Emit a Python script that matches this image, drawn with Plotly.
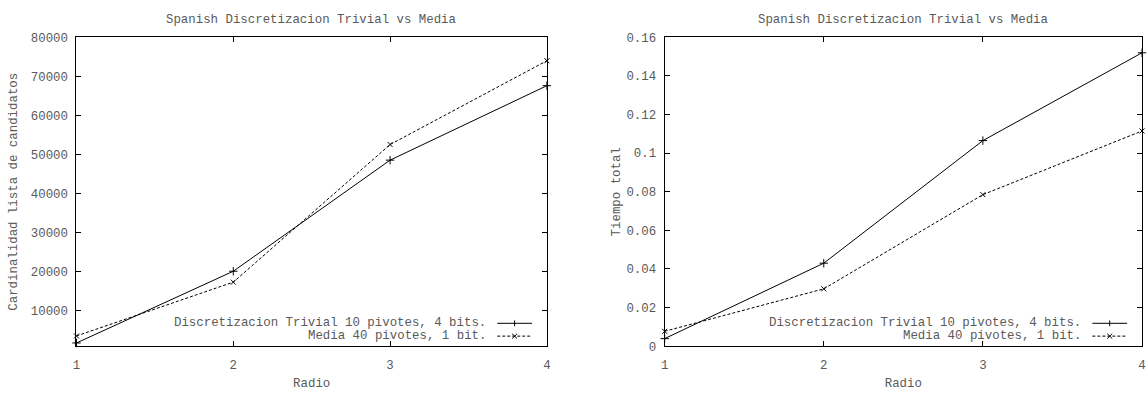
import plotly.graph_objects as go

radio = [1, 2, 3, 4]
cand_trivial = [1600, 20000, 48500, 67600]
cand_media = [3400, 17200, 52500, 74000]
tiempo_trivial = [0.0039, 0.0430, 0.1065, 0.1520]
tiempo_media = [0.0077, 0.0297, 0.0785, 0.1115]

title_text = "Spanish Discretizacion Trivial vs Media"
name_trivial = "Discretizacion Trivial 10 pivotes, 4 bits."
name_media = "Media 40 pivotes, 1 bit."
xlabel = "Radio"
ylabel_left = "Cardinalidad lista de candidatos"
ylabel_right = "Tiempo total"
left_yticks = [10000, 20000, 30000, 40000, 50000, 60000, 70000, 80000]
left_yticktext = ["10000", "20000", "30000", "40000", "50000", "60000", "70000", "80000"]
right_yticks = [0, 0.02, 0.04, 0.06, 0.08, 0.1, 0.12, 0.14, 0.16]
right_yticktext = ["0", "0.02", "0.04", "0.06", "0.08", "0.1", "0.12", "0.14", "0.16"]
x_ticktext = ["1", "2", "3", "4"]

W, H = 1147, 394
FONT = "Liberation Mono"
GRAY = "#5a5a5a"
FS = 12.4

def px(x):
    return x / W

def py(y):
    return 1 - y / H

L1, R1 = 73.0, 546.7
L2, R2 = 665.3, 1146.0
TOP, BOT = 32.5, 352.7

fig = go.Figure()

dash = "3px,2px"
for xa, ya, tr, me in [("x", "y", cand_trivial, cand_media), ("x2", "y2", tiempo_trivial, tiempo_media)]:
    fig.add_trace(go.Scatter(x=radio, y=tr, xaxis=xa, yaxis=ya, mode="lines+markers",
                             line=dict(color="black", width=1),
                             marker=dict(symbol="cross-thin", size=6, line=dict(color="black", width=1)),
                             showlegend=False, cliponaxis=False))
    fig.add_trace(go.Scatter(x=radio, y=me, xaxis=xa, yaxis=ya, mode="lines+markers",
                             line=dict(color="black", width=1, dash=dash),
                             marker=dict(symbol="x-thin", size=5, line=dict(color="black", width=1)),
                             showlegend=False, cliponaxis=False))

axis_common = dict(showline=True, linecolor="black", linewidth=1, mirror="allticks",
                   ticks="inside", ticklen=5, tickcolor="black", showgrid=False, zeroline=False,
                   tickfont=dict(family=FONT, size=FS, color=GRAY),
                   title_font=dict(family=FONT, size=FS, color=GRAY))

fig.update_layout(
    width=W, height=H, margin=dict(l=0, r=0, t=0, b=0),
    paper_bgcolor="white", plot_bgcolor="white",
    xaxis=dict(domain=[px(L1), px(R1)], range=[1, 4], tickvals=radio, ticktext=x_ticktext, anchor="y",
               ticklabelstandoff=7, title=dict(text=xlabel, standoff=6), **axis_common),
    yaxis=dict(domain=[py(BOT), py(TOP)], range=[780, 80000], tickvals=left_yticks,
               ticktext=left_yticktext, anchor="x", ticklabelstandoff=5,
               title=dict(text=ylabel_left, standoff=10), **axis_common),
    xaxis2=dict(domain=[px(L2), px(R2)], range=[1, 4], tickvals=radio, ticktext=x_ticktext, anchor="y2",
                ticklabelstandoff=7, title=dict(text=xlabel, standoff=6), **axis_common),
    yaxis2=dict(domain=[py(BOT), py(TOP)], range=[0, 0.16], tickvals=right_yticks,
                ticktext=right_yticktext, anchor="x2", ticklabelstandoff=5,
                title=dict(text=ylabel_right, standoff=3), **axis_common),
    showlegend=False,
)

annotations = []
shapes = []
for (l, r) in [(L1, R1), (L2, R2)]:
    annotations.append(dict(text=title_text, x=px((l + r) / 2), y=py(14), xref="paper", yref="paper",
                            xanchor="center", yanchor="middle", showarrow=False,
                            font=dict(family=FONT, size=FS, color=GRAY)))
    text_end = r - 59.5
    s0, s1 = r - 50, r - 15
    mid = (s0 + s1) / 2
    for row_y, name, d, sym in [(329, name_trivial, "solid", "+"), (342.3, name_media, dash, "x")]:
        annotations.append(dict(text=name, x=px(text_end), y=py(row_y), xref="paper", yref="paper",
                                xanchor="right", yanchor="middle", showarrow=False,
                                font=dict(family=FONT, size=FS, color=GRAY)))
        shapes.append(dict(type="line", xref="paper", yref="paper", x0=px(s0), x1=px(s1),
                           y0=py(row_y), y1=py(row_y), line=dict(color="black", width=1, dash=d)))
        if sym == "+":
            shapes.append(dict(type="line", xref="paper", yref="paper", x0=px(mid), x1=px(mid),
                               y0=py(row_y - 3), y1=py(row_y + 3), line=dict(color="black", width=1)))
        else:
            shapes.append(dict(type="line", xref="paper", yref="paper", x0=px(mid - 2.5), x1=px(mid + 2.5),
                               y0=py(row_y - 2.5), y1=py(row_y + 2.5), line=dict(color="black", width=1)))
            shapes.append(dict(type="line", xref="paper", yref="paper", x0=px(mid - 2.5), x1=px(mid + 2.5),
                               y0=py(row_y + 2.5), y1=py(row_y - 2.5), line=dict(color="black", width=1)))

fig.update_layout(annotations=annotations, shapes=shapes)
fig.write_html("out.html")
